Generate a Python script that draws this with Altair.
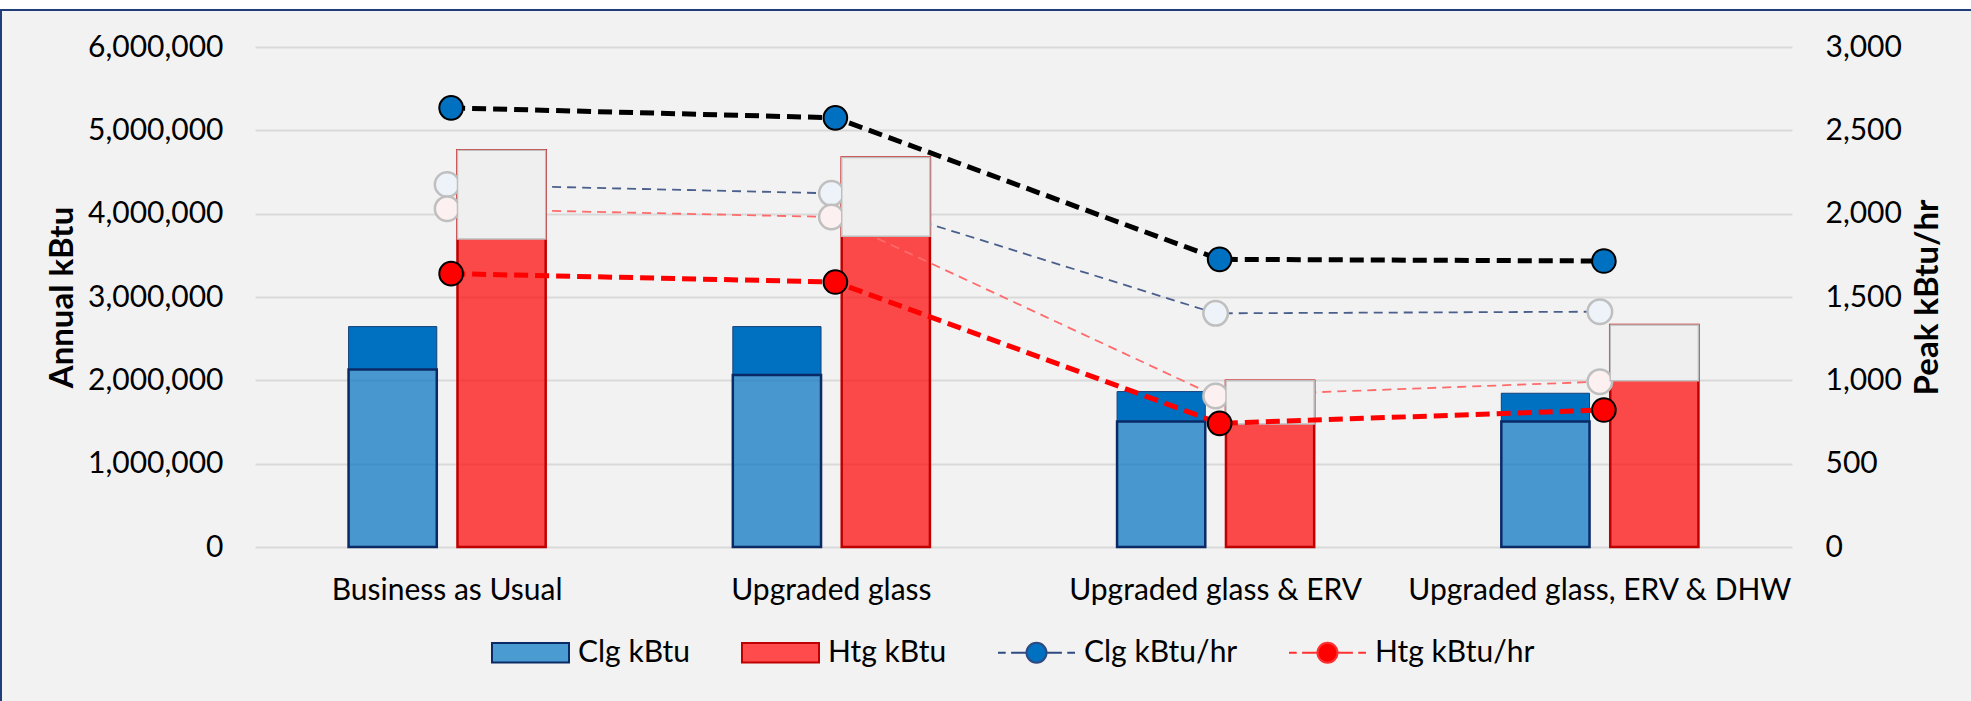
import altair as alt
import pandas as pd

# ---------------- data ----------------
categories = ["Business as Usual", "Upgraded glass", "Upgraded glass & ERV",
              "Upgraded glass, ERV & DHW"]
clg_kbtu = [2130000, 2065000, 1505000, 1505000]
clg_kbtu_prev = [2645000, 2645000, 1865000, 1845000]
htg_kbtu = [3695000, 3730000, 1475000, 1995000]
htg_kbtu_prev = [4760000, 4675000, 1995000, 2665000]
clg_peak = [2635, 2575, 1726, 1716]
htg_peak = [1640, 1590, 742, 822]
clg_peak_prev = [2175, 2122, 1402, 1412]
htg_peak_prev = [2030, 1980, 906, 992]

left_ticks = [0, 1000000, 2000000, 3000000, 4000000, 5000000, 6000000]
right_ticks = [0, 500, 1000, 1500, 2000, 2500, 3000]
series = ["Clg kBtu", "Htg kBtu", "Clg kBtu/hr", "Htg kBtu/hr"]

df = pd.DataFrame({
    "category": categories,
    "clg": clg_kbtu, "clg_prev": clg_kbtu_prev,
    "htg": htg_kbtu, "htg_prev": htg_kbtu_prev,
    "clg_peak": clg_peak, "htg_peak": htg_peak,
    "clg_peak_prev": clg_peak_prev, "htg_peak_prev": htg_peak_prev,
})
legend_df = pd.DataFrame({"series": series})

FONT = "Lato"
W, H = 1537, 500
PAD = {"left": 255, "top": 47, "right": 179, "bottom": 154}

x_enc = alt.X(
    "category:N",
    scale=alt.Scale(domain=categories, paddingInner=0.487, paddingOuter=0.2435),
    axis=alt.Axis(title=None, labelAngle=0, labelFont=FONT, labelFontSize=30,
                  labelColor="black", labelPadding=28, ticks=False, domain=False,
                  labelLimit=0, labelOverlap=False, grid=False),
)
xo_enc = alt.XOffset("grp:N", scale=alt.Scale(domain=["Clg", "Htg"],
                                               paddingInner=0.19, paddingOuter=0))

left_scale = alt.Scale(domain=[0, 6000000], nice=False, zero=True)
right_scale = alt.Scale(domain=[0, 3000], nice=False, zero=True)

left_axis = alt.Axis(title="Annual kBtu", orient="left", values=left_ticks, format=",.0f",
                     labelFont=FONT, labelFontSize=30, labelColor="black",
                     labelPadding=32, ticks=False, domain=False,
                     grid=True, gridColor="#d9d9d9", gridWidth=2,
                     titleFont=FONT, titleFontSize=33, titleFontWeight="bold",
                     titleColor="black", titlePadding=8)
right_axis = alt.Axis(title="Peak kBtu/hr", orient="right", values=right_ticks, format=",.0f",
                      labelFont=FONT, labelFontSize=30, labelColor="black",
                      labelPadding=33, ticks=False, domain=False, grid=False,
                      titleFont=FONT, titleFontSize=33, titleFontWeight="bold",
                      titleColor="black", titlePadding=10, titleAngle=-90,
                      titleBaseline="top")

base = alt.Chart(df)

# ---------------- bars (left axis) ----------------
dark_blue = base.transform_calculate(grp="'Clg'").mark_bar(
    color="#0070c0", stroke="#17407a", strokeWidth=1, xOffset=-3
).encode(x=x_enc, xOffset=xo_enc,
         y=alt.Y("clg:Q", scale=left_scale, axis=left_axis),
         y2="clg_prev:Q")

light_blue = base.transform_calculate(grp="'Clg'").mark_bar(
    fill="#0070c0", fillOpacity=0.7, stroke="#0a2a66", strokeWidth=2.5
).encode(x=x_enc, xOffset=xo_enc,
         y=alt.Y("clg:Q", scale=left_scale, axis=left_axis))

red_bar = base.transform_calculate(grp="'Htg'").mark_bar(
    fill="#ff0000", fillOpacity=0.7, stroke="#c00000", strokeWidth=2.5
).encode(x=x_enc, xOffset=xo_enc,
         y=alt.Y("htg_prev:Q", scale=left_scale, axis=left_axis))

bars = alt.layer(dark_blue, light_blue, red_bar)

# ---------------- faded previous peaks (right axis) ----------------
thin_clg = base.mark_line(color="#4a5f8c", strokeWidth=1.8, strokeDash=[9, 6]).encode(
    x=x_enc, y=alt.Y("clg_peak_prev:Q", scale=right_scale, axis=right_axis))
thin_htg = base.mark_line(color="#ff6b6b", strokeWidth=1.8, strokeDash=[9, 6]).encode(
    x=x_enc, y=alt.Y("htg_peak_prev:Q", scale=right_scale, axis=right_axis))
pale_clg = base.mark_circle(size=600, fill="#eef3f9", stroke="#bfbfbf", strokeWidth=2.5,
                            opacity=1).encode(
    x=x_enc, y=alt.Y("clg_peak_prev:Q", scale=right_scale, axis=right_axis))
pale_htg = base.mark_circle(size=600, fill="#fcf0f0", stroke="#bfbfbf", strokeWidth=2.5,
                            opacity=1).encode(
    x=x_enc, y=alt.Y("htg_peak_prev:Q", scale=right_scale, axis=right_axis))
faded = alt.layer(thin_clg, thin_htg, pale_clg, pale_htg)

# ---------------- grey reduction boxes (left axis) ----------------
grey = base.transform_calculate(grp="'Htg'").mark_bar(
    fill="#efefef", stroke="#bfbfbf", strokeWidth=1.5, xOffset=-2.5
).encode(x=x_enc, xOffset=xo_enc,
         y=alt.Y("htg:Q", scale=left_scale, axis=None),
         y2="htg_prev:Q")

# ---------------- current peaks (right axis) ----------------
bold_clg = base.mark_line(color="black", strokeWidth=5, strokeDash=[14, 7], xOffset=4).encode(
    x=x_enc, y=alt.Y("clg_peak:Q", scale=right_scale, axis=None))
bold_htg = base.mark_line(color="#ff0000", strokeWidth=5, strokeDash=[14, 7], xOffset=4).encode(
    x=x_enc, y=alt.Y("htg_peak:Q", scale=right_scale, axis=None))
pt_clg = base.mark_circle(size=560, fill="#0070c0", stroke="black", strokeWidth=2,
                          opacity=1, xOffset=4).encode(
    x=x_enc, y=alt.Y("clg_peak:Q", scale=right_scale, axis=None))
pt_htg = base.mark_circle(size=560, fill="#ff0000", stroke="black", strokeWidth=2,
                          opacity=1, xOffset=4).encode(
    x=x_enc, y=alt.Y("htg_peak:Q", scale=right_scale, axis=None))
bold = alt.layer(bold_clg, bold_htg, pt_clg, pt_htg)

# ---------------- legend ----------------
rect_path = "M-1,-0.255L1,-0.255L1,0.255L-1,0.255Z"
line_path = ("M-1,0L-0.8,0M-0.66,0L-0.27,0M0.27,0L0.66,0M0.8,0L1,0"
             "M0.26,0A0.26,0.26,0,1,1,-0.26,0A0.26,0.26,0,1,1,0.26,0Z")
leg = alt.Legend(title=None, orient="none", legendX=236, legendY=566,
                 direction="horizontal", symbolSize=5929, symbolStrokeWidth=2,
                 symbolOpacity=1, labelFont=FONT, labelFontSize=30,
                 labelColor="black", labelOffset=8, columnPadding=47, labelLimit=0)
legend_layer = alt.Chart(legend_df).mark_point(filled=True, opacity=0).encode(
    fill=alt.Fill("series:N", legend=leg, scale=alt.Scale(
        domain=series, range=["#4b9bd3", "#ff4b4b", "#0070c0", "#ff0000"])),
    stroke=alt.Stroke("series:N", legend=leg, scale=alt.Scale(
        domain=series, range=["#0a2a66", "#c00000", "#2f4a80", "#ff3030"])),
    shape=alt.Shape("series:N", legend=leg, scale=alt.Scale(
        domain=series, range=[rect_path, rect_path, line_path, line_path])),
)

# ---------------- frame decoration ----------------
one = alt.Data(values=[{}])
top_strip = alt.Chart(one).mark_rect(color="white").encode(
    x=alt.value(-PAD["left"]), x2=alt.value(W + PAD["right"]),
    y=alt.value(-PAD["top"]), y2=alt.value(-37))
top_border = alt.Chart(one).mark_rule(color="#203f7a", strokeWidth=2).encode(
    x=alt.value(-PAD["left"]), x2=alt.value(W + PAD["right"]), y=alt.value(-37))
left_border = alt.Chart(one).mark_rule(color="#203f7a", strokeWidth=2).encode(
    x=alt.value(-PAD["left"] + 1), y=alt.value(-37), y2=alt.value(H + PAD["bottom"]))

chart = alt.layer(
    bars, faded, grey, bold, legend_layer, top_strip, top_border, left_border
).resolve_scale(y="independent").properties(
    width=W, height=H, padding=PAD,
    autosize=alt.AutoSizeParams(type="none"),
    background="#f2f2f2",
).configure_view(fill="white", stroke=None)

chart.save("out.html", embed_options={"renderer": "svg", "actions": False})
